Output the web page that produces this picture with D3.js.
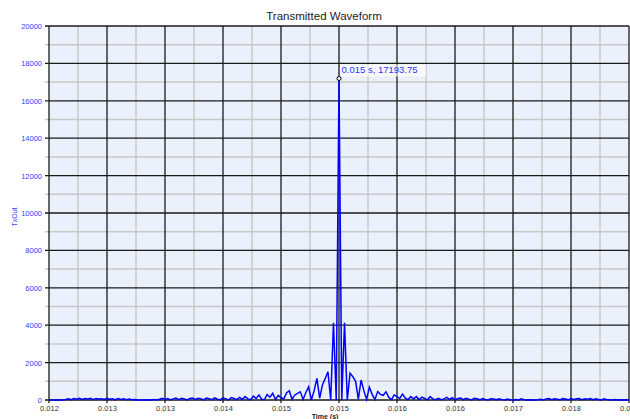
<!DOCTYPE html>
<html>
<head>
<meta charset="utf-8">
<script src="https://cdn.jsdelivr.net/npm/d3@7"></script>
<style>
  html, body { margin: 0; padding: 0; background: #fff; overflow: hidden; }
  svg { display: block; font-family: "Liberation Sans", Arial, sans-serif; }
</style>
</head>
<body>
<div id="chart"></div>
<script>
// Transmitted waveform

const title = 'Transmitted Waveform';
const xTitle = 'Time (s)';
const yTitle = 'TxOut';

// x axis: 10 divisions between these limits
const timeMin = 0.012;
const timeMax = 0.01835;
const xTickLabels = ['0.012', '0.013', '0.013', '0.014', '0.015', '0.015', '0.016', '0.016', '0.017', '0.018', '0.018'];
const yTicks = [0, 2000, 4000, 6000, 8000, 10000, 12000, 14000, 16000, 18000, 20000];

// samples are evenly spaced in time from timeMin to timeMax
const sampleStart = 0.012;
const sampleStep = (0.01835 - 0.012) / 210;

// TxOut per sample (211 samples, peak at sample 105)
const txLeft = [
  0, 0, 0, 0, 0, 0,
  30, 70, 20, 80, 40, 90, 30, 80, 60, 90, 20, 80, 50, 70, 30, 90, 40, 70, 20, 80, 30, 60, 20, 50, 10, 30, 0,
  0, 0, 10, 0, 0, 20, 0,
  40, 90, 30, 80, 10, 60, 100, 20, 90, 50, 0, 80, 110, 30, 90, 60, 10, 100, 70, 20, 120, 40, 10, 110, 60, 0, 130, 80, 20,
  140, 30, 180, 60, 10, 210, 80, 270, 40, 20, 300, 150, 360, 30, 250, 120, 60, 380, 500, 40,
  270, 350, 440, 30, 400, 710, 0, 500, 1160, 100, 800, 1150, 1510, 0, 4130, 0
];
const txPeak = [17193.75];
const txRight = [
  0, 4130, 0, 1440, 1250, 1000, 50, 1070, 500, 30, 690, 300, 20, 450, 300, 250, 440, 150, 20, 270,
  180, 80, 320, 100, 20, 180, 60, 180, 20, 150, 80, 10, 180, 60, 20, 90, 20, 60, 140, 30,
  120, 10, 80, 100, 20, 90, 40, 0, 90, 70, 10, 80, 30, 0, 70, 60, 10, 70, 20, 0,
  50, 10, 0, 20, 0, 60, 20, 0, 10, 0, 0, 10, 40, 0, 60, 80, 20, 70, 40, 10,
  80, 50, 10, 80, 30, 70, 80, 10, 60, 40, 80, 20, 70, 30, 0, 60, 20, 10, 0, 20,
  0, 0, 10, 0, 0
];

const peakLabel = '0.015 s, 17193.75';

const width = 630, height = 419;
const margin = {top: 26, right: 1, bottom: 19, left: 49};
const plotW = width - margin.left - margin.right;
const plotH = height - margin.top - margin.bottom;

const values = txLeft.concat(txPeak, txRight);
const data = values.map((v, i) => ({t: sampleStart + i * sampleStep, v: v}));
const peak = data[txLeft.length];

const x = d3.scaleLinear().domain([timeMin, timeMax]).range([0, plotW]);
const y = d3.scaleLinear().domain([0, 20000]).range([plotH, 0]);

const svg = d3.select('#chart').append('svg')
  .attr('width', width).attr('height', height);

const g = svg.append('g').attr('transform', `translate(${margin.left},${margin.top})`);

g.append('rect').attr('width', plotW).attr('height', plotH).attr('fill', '#ebf1fc');

const xMajor = d3.range(11).map(i => timeMin + i * (timeMax - timeMin) / 10);
const xMinor = d3.range(10).map(i => timeMin + (i + 0.5) * (timeMax - timeMin) / 10);
const yMinor = d3.range(10).map(i => 1000 + i * 2000);

// minor grid
g.append('g').selectAll('line').data(xMinor).join('line')
  .attr('x1', d => x(d)).attr('x2', d => x(d)).attr('y1', 0).attr('y2', plotH)
  .attr('stroke', '#c8c8c8').attr('stroke-width', 1.5);
g.append('g').selectAll('line').data(yMinor).join('line')
  .attr('x1', -4).attr('x2', plotW).attr('y1', d => y(d)).attr('y2', d => y(d))
  .attr('stroke', '#c8c8c8').attr('stroke-width', 1.5);

// major grid
g.append('g').selectAll('line').data(xMajor).join('line')
  .attr('x1', d => x(d)).attr('x2', d => x(d)).attr('y1', 0).attr('y2', plotH + 3)
  .attr('stroke', '#1a1a1a').attr('stroke-width', 1.3);
g.append('g').selectAll('line').data(yTicks).join('line')
  .attr('x1', -4).attr('x2', plotW).attr('y1', d => y(d)).attr('y2', d => y(d))
  .attr('stroke', '#1a1a1a').attr('stroke-width', 1.3);

// axes labels
const yAxis = d3.axisLeft(y).tickValues(yTicks).tickSize(0).tickPadding(7).tickFormat(d3.format('d'));
g.append('g').call(yAxis)
  .call(s => s.select('.domain').remove())
  .selectAll('text').attr('fill', '#3a3aff').attr('font-size', '7.5px')
  .attr('font-family', '"Liberation Sans", Arial, sans-serif');

const xAxis = d3.axisBottom(x).tickValues(xMajor).tickSize(0).tickPadding(6)
  .tickFormat((d, i) => xTickLabels[i]);
g.append('g').attr('transform', `translate(0,${plotH})`).call(xAxis)
  .call(s => s.select('.domain').remove())
  .selectAll('text').attr('fill', '#333').attr('font-size', '7.5px')
  .attr('font-family', '"Liberation Sans", Arial, sans-serif');

// waveform
const line = d3.line().x(d => x(d.t)).y(d => y(d.v));
g.append('path').datum(data).attr('d', line)
  .attr('fill', 'none').attr('stroke', '#0000ff').attr('stroke-width', 1.5)
  .attr('stroke-linejoin', 'miter');

// peak marker + label
const lbl = g.append('g').attr('transform', `translate(${x(peak.t)},${y(peak.v)})`);
lbl.append('rect').attr('x', 1).attr('y', -14).attr('width', 86).attr('height', 12)
  .attr('fill', '#fff').attr('opacity', 0.6);
lbl.append('text').attr('x', 2.5).attr('y', -5).text(peakLabel)
  .attr('fill', '#3333ff').attr('font-size', '9.5px');
lbl.append('circle').attr('r', 2).attr('fill', '#fff').attr('stroke', '#000').attr('stroke-width', 1);

// titles
svg.append('text').attr('x', 324).attr('y', 20).attr('text-anchor', 'middle')
  .attr('font-size', '11.5px').attr('fill', '#222').text(title);
svg.append('text').attr('x', 325).attr('y', 419).attr('text-anchor', 'middle')
  .attr('font-size', '7px').attr('font-weight', 'bold').attr('fill', '#222').text(xTitle);
svg.append('text').attr('transform', 'translate(17,217) rotate(-90)').attr('text-anchor', 'middle')
  .attr('font-size', '7px').attr('fill', '#3a3aff').text(yTitle);
</script>
</body>
</html>
